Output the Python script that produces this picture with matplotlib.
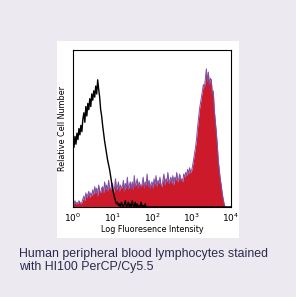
import numpy as np
import matplotlib
matplotlib.use("Agg")
import matplotlib.pyplot as plt
from matplotlib import patches

# log10 bin centres, step 0.025 from 10^0 to 10^4
log_bins = np.linspace(0, 4, 161)

stained = [3, 2, 4, 2, 3, 2, 4, 3, 2, 3,
           5, 7, 4, 9, 6, 8, 10, 6, 9, 7,
           11, 8, 13, 9, 12, 7, 14, 10, 9, 12,
           13, 9, 16, 11, 14, 10, 17, 12, 11, 14,
           15, 9, 12, 18, 11, 13, 16, 10, 14, 12,
           13, 17, 10, 15, 12, 19, 11, 14, 16, 12,
           16, 11, 20, 13, 15, 18, 12, 16, 14, 13,
           15, 19, 12, 16, 14, 21, 13, 17, 12, 15,
           16, 12, 18, 14, 20, 13, 17, 15, 19, 14,
           13, 17, 21, 14, 18, 16, 22, 15, 17, 19,
           15, 20, 14, 19, 17, 22, 16, 18, 21, 17,
           18, 16, 21, 19, 22, 20, 24, 21, 25, 22,
           23, 26, 30, 34, 38, 43, 50, 56, 62, 66,
           70, 74, 78, 76, 82, 88, 80, 86, 78, 82,
           81, 72, 74, 62, 55, 48, 40, 30, 24, 18,
           14, 9, 5, 2, 0, 0, 0, 0, 0, 0,
           0]

control = [41, 38, 45, 40, 47, 43, 50, 46, 52, 48,
           56, 60, 54, 64, 58, 66, 62, 69, 64, 72,
           68, 74, 70, 77, 72, 81, 75, 70, 62, 58,
           52, 47, 42, 38, 34, 30, 27, 24, 20, 16,
           12, 9, 6, 4, 2, 3, 1, 2, 0, 3,
           1, 0, 2, 4, 0, 1, 3, 0, 2, 0,
           4, 1, 0, 3, 0, 2, 0, 1, 0, 3,
           0, 1, 0, 2, 0, 0, 0, 0, 0, 0] + [0] * 81

tick_pos = [1, 10, 100, 1000, 10000]
tick_labels = [r"$10^0$", r"$10^1$", r"$10^2$", r"$10^3$", r"$10^4$"]

x = 10 ** log_bins

fig = plt.figure(figsize=(2.96, 2.97), dpi=100)
fig.patch.set_facecolor("#ECEAF0")

# white card behind the plot
card = patches.Rectangle((0.1926, 0.1987), 0.615, 0.663,
                         transform=fig.transFigure,
                         facecolor="white", edgecolor="none", zorder=-5)
fig.add_artist(card)

ax = fig.add_axes([0.2466, 0.303, 0.534, 0.5286])
ax.set_zorder(2)
ax.set_xscale("log")
ax.fill_between(x, stained, color="#CC1A2A", linewidth=0)
ax.plot(x, stained, color="#7A4FA8", linewidth=0.7)
ax.plot(x, control, color="black", linewidth=1.0)

ax.set_xlim(1, 10000)
ax.set_ylim(0, 100)
ax.set_xticks(tick_pos)
ax.set_xticklabels(tick_labels, fontsize=6.5)
ax.minorticks_off()
ax.set_yticks([])
ax.tick_params(length=0, pad=3)
for s in ax.spines.values():
    s.set_linewidth(0.8)
ax.set_xlabel("Log Fluoresence Intensity", fontsize=5.8, labelpad=1)
ax.set_ylabel("Relative Cell Number", fontsize=5.8, labelpad=4)

fig.text(0.064, 0.166, "Human peripheral blood lymphocytes stained\nwith HI100 PerCP/Cy5.5",
         fontsize=8.9, family="Liberation Sans", color="#2B2A4C",
         va="top", linespacing=1.18)

fig.savefig("out.png", dpi=100, facecolor=fig.get_facecolor())
